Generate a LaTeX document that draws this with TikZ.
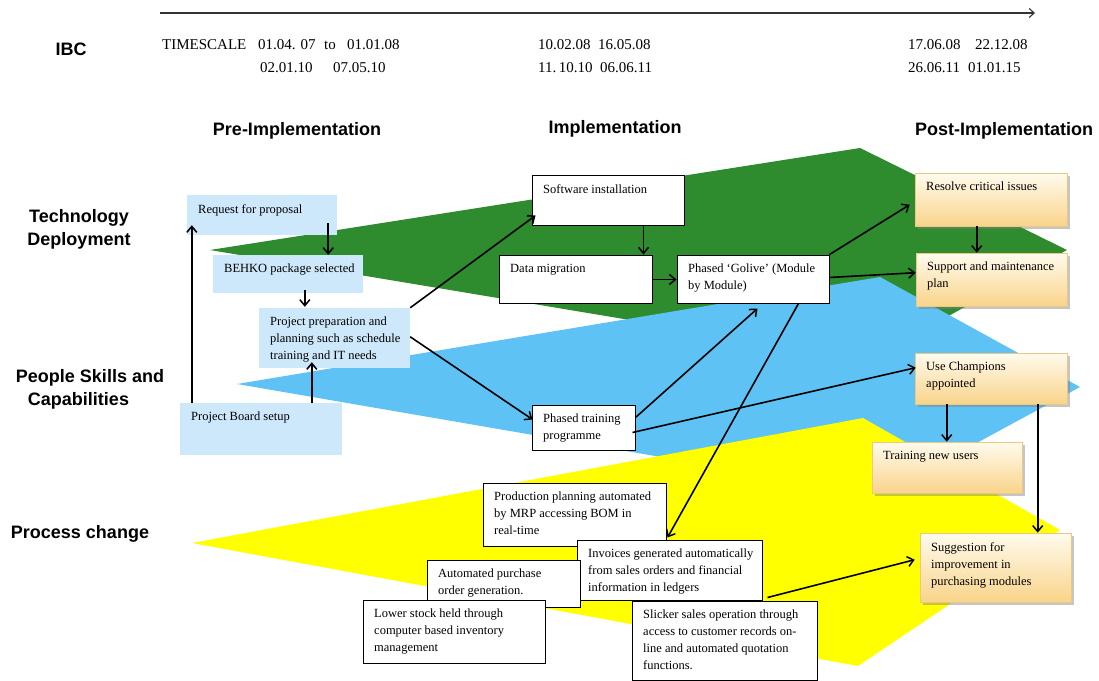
\documentclass[tikz,border=0pt]{standalone}
\usepackage{fontspec}
\setmainfont{Liberation Serif}
\newfontfamily\hdfont{Liberation Sans}
\usetikzlibrary{arrows.meta,shadows,fit,calc}

\definecolor{gfill}{RGB}{46,139,46}
\definecolor{bfill}{RGB}{94,194,245}
\definecolor{yfill}{RGB}{255,255,0}
\definecolor{lblue}{RGB}{205,232,250}
\definecolor{ctop}{RGB}{255,251,238}
\definecolor{cbot}{RGB}{249,212,138}
\definecolor{cline}{RGB}{236,200,130}

\newcommand{\DrawBox}[7]{%
  \coordinate (#2-a) at (#3,#4);
  \coordinate (#2-b) at (#5,#6);
  \node[#1, fit=(#2-a)(#2-b)] (#2) {};
  \node[btxt] (#2-t) at ($(#2-a)+(11,9)$) {#7};
}

\begin{document}
\begin{tikzpicture}[x=1pt,y=-1pt,
  arr/.style={draw=black, line width=1.6pt, -{Straight Barb[length=6pt,width=10pt,line width=1.5pt]}},
  lbbox/.style={fill=lblue, draw=none, inner sep=0pt},
  wbox/.style={fill=white, draw=black, line width=1pt, inner sep=0pt},
  cbox/.style={top color=ctop, bottom color=cbot, draw=cline, line width=0.6pt, inner sep=0pt, drop shadow={shadow xshift=2.5pt, shadow yshift=-2.5pt, opacity=0.45}},
  btxt/.style={font=\fontsize{12.5}{17}\selectfont, align=left, inner sep=0pt, anchor=north west},
  hd/.style={font=\hdfont\bfseries\fontsize{18}{23}\selectfont},
  dt/.style={font=\fontsize{15}{17}\selectfont, anchor=west, inner sep=0pt},
]
\useasboundingbox (0,0) rectangle (1099,680);
\fill[white] (0,0) rectangle (1099,680);

% bands
\fill[gfill] (210,250) -- (860,148) -- (1067,250) -- (945,318) -- (630,320) -- cycle;
\fill[bfill] (237,384) -- (880,277) -- (1080,387) -- (960,452) -- (690,462) -- cycle;
\fill[yfill] (192,543) -- (863,418) -- (1060,530) -- (858,666) -- cycle;

% timeline
\coordinate (tl0) at (160,13);
\coordinate (tl1) at (1035,13);
\draw[line width=1.1pt, draw=black!80, -{Straight Barb[length=5pt,width=9pt,line width=1.1pt]}] (tl0) -- (tl1);

\node[hd] (ibc) at (71,49) {IBC};
\node[dt] (ts) at (162,45) {TIMESCALE};
\node[dt] (d1) at (258,45) {01.04. 07};
\node[dt] (d1b) at (324,45) {to};
\node[dt] (d1c) at (347,45) {01.01.08};
\node[dt] (d2) at (260,68) {02.01.10};
\node[dt] (d2b) at (333,68) {07.05.10};
\node[dt] (d3) at (538,45) {10.02.08};
\node[dt] (d3b) at (598,45) {16.05.08};
\node[dt] (d4) at (538,68) {11.\,10.10};
\node[dt] (d4b) at (600,68) {06.06.11};
\node[dt] (d5) at (908,45) {17.06.08};
\node[dt] (d5b) at (975,45) {22.12.08};
\node[dt] (d6) at (908,68) {26.06.11};
\node[dt] (d6b) at (968,68) {01.01.15};

\node[hd] (h1) at (297,131) {Pre-Implementation};
\node[hd] (h2) at (615,129) {Implementation};
\node[hd] (h3) at (1004,131) {Post-Implementation};

\node[hd, align=center] (l1) at (79,229) {Technology\\Deployment};
\node[hd, align=left] (l2) at (90,389) {People Skills and\\\hspace*{12pt}Capabilities};
\node[hd] (l3) at (80,534) {Process change};

% boxes
\DrawBox{lbbox}{rfp}{187}{195}{337}{235}{Request for proposal}
\DrawBox{lbbox}{behko}{213}{255}{363}{293}{BEHKO package selected}
\DrawBox{lbbox}{prep}{259}{308}{410}{368}{Project preparation and\\planning such as schedule\\training and IT needs}
\DrawBox{lbbox}{pb}{180}{403}{342}{455}{Project Board setup}
\DrawBox{wbox}{sw}{532}{175}{684}{225}{Software installation}
\DrawBox{wbox}{dm}{499}{255}{652}{303}{Data migration}
\DrawBox{wbox}{gl}{677}{255}{829}{303}{Phased ‘Golive’ (Module\\by Module)}
\DrawBox{wbox}{tr}{532}{405}{635}{450}{Phased training\\programme}
\DrawBox{cbox}{res}{915}{173}{1067}{226}{Resolve critical issues}
\DrawBox{cbox}{sup}{916}{253}{1067}{306}{Support and maintenance\\plan}
\DrawBox{cbox}{uc}{915}{353}{1067}{404}{Use Champions\\appointed}
\DrawBox{cbox}{tnu}{872}{442}{1022}{493}{Training new users}
\DrawBox{cbox}{sug}{920}{533}{1071}{602}{Suggestion for\\improvement in\\purchasing modules}
\DrawBox{wbox}{prod}{483}{483}{666}{546}{Production planning automated\\by MRP accessing BOM in\\real-time}
\DrawBox{wbox}{inv}{577}{540}{762}{600}{Invoices generated automatically\\from sales orders and financial\\information in ledgers}
\DrawBox{wbox}{apo}{427}{560}{580}{607}{Automated purchase\\order generation.}
\DrawBox{wbox}{ls}{363}{600}{545}{663}{Lower stock held through\\computer based inventory\\management}
\DrawBox{wbox}{sl}{632}{601}{817}{680}{Slicker sales operation through\\access to customer records on-\\line and automated quotation\\functions.}

% connectors
\draw[arr] ($(pb.north west)+(12,0)$) -- ($(pb.north west |- rfp.south)+(12,-10)$);
\draw[arr] ($(rfp.south east)+(-9,-12)$) -- ($(rfp.south east |- behko.north)+(-9,0)$);
\draw[arr] ($(behko.south west)+(92,-3)$) -- ($(behko.south west |- prep.north)+(92,-1)$);
\draw[arr] ($(pb.north west)+(132,0)$) -- ($(pb.north west |- prep.south)+(132,-6)$);
\draw[arr] (prep.north east) -- ($(sw.south west)+(4,-10)$);
\draw[arr] ($(prep.north east)+(0,29)$) -- ($(tr.north west)+(1,15)$);
\draw[arr] ($(sw.south east)+(-41,0)$) -- ($(sw.south east |- dm.north)+(-41,0)$);
\draw[arr] ($(dm.north east)+(0,25)$) -- ($(gl.north west)+(0,25)$);
\draw[arr] ($(tr.north east)+(0,13)$) -- ($(gl.south west)+(81,5)$);
\draw[arr] ($(tr.north east)+(-3,28)$) -- ($(uc.north west)+(1,15)$);
\draw[arr] ($(gl.south east)+(-31,0)$) -- ($(prod.south east)+(1,-9)$);
\draw[arr] (gl.north east) -- ($(res.north west)+(-5,32)$);
\draw[arr] ($(gl.north east)+(0,23)$) -- ($(sup.north west)+(0,20)$);
\draw[arr] ($(res.south west)+(62,0)$) -- ($(res.south west |- sup.north)+(62,0)$);
\draw[arr] ($(uc.south west)+(32,0)$) -- ($(uc.south west |- tnu.north)+(32,0)$);
\draw[arr] ($(uc.south west)+(123,0)$) -- ($(uc.south west |- sug.north)+(123,0)$);
\draw[arr] ($(inv.south east)+(5,-3)$) -- ($(sug.north west)+(-5,27)$);
\end{tikzpicture}
\end{document}
